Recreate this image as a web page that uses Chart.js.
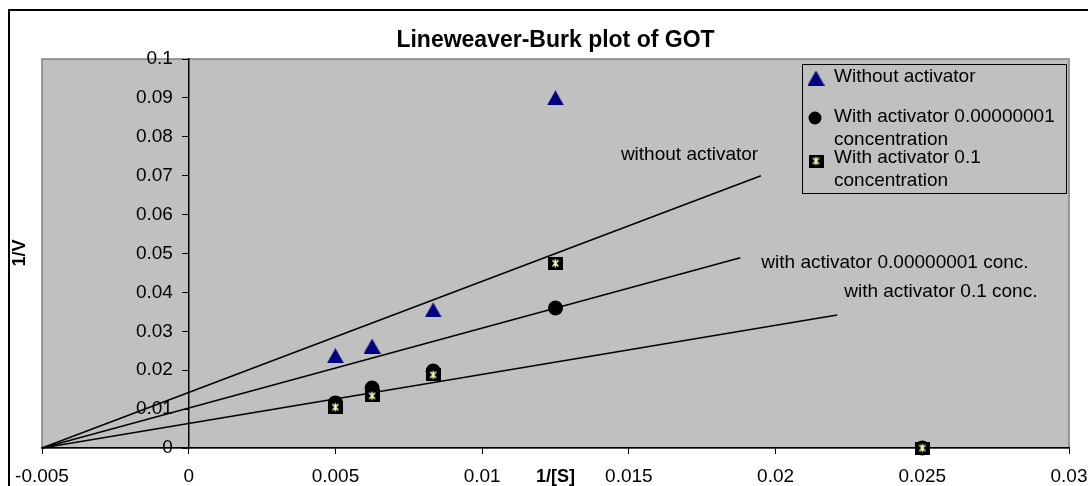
<!DOCTYPE html>
<html>
<head>
<meta charset="utf-8">
<title>Lineweaver-Burk plot of GOT</title>
<script src="https://cdn.jsdelivr.net/npm/chart.js@4.4.1/dist/chart.umd.min.js"></script>
<style>
  body { margin: 0; background: #fff; }
  canvas { display: block; }
</style>
</head>
<body>
<canvas id="lbChart" width="1088" height="486"></canvas>
<script>
const chartTitle = "Lineweaver-Burk plot of GOT";
const xAxisTitle = "1/[S]";
const yAxisTitle = "1/V";

// 1/[S] of the measured points
const substrateInv = [0.005, 0.00625, 0.00833, 0.0125, 0.025];
// 1/V readings
const withoutActivator = [0.0237, 0.0262, 0.0355, 0.09];
const withActivatorLow = [0.0116, 0.0154, 0.0198, 0.036, 0];
const withActivatorHigh = [0.0105, 0.0134, 0.0188, 0.0475, 0];

const legendLines = [
  ["Without activator"],
  ["With activator 0.00000001", "concentration"],
  ["With activator 0.1", "concentration"]
];

// fitted lines, all drawn from the common x-intercept
const lineStart = [-0.005, 0];
const lineEndX = [0.0195, 0.0188, 0.0221];
const lineEndY = [0.070, 0.0489, 0.0342];
const lineLabels = ["without activator", "with activator 0.00000001 conc.", "with activator 0.1 conc."];

const xTickLabels = ["-0.005", "0", "0.005", "0.01", "0.015", "0.02", "0.025", "0.03"];
const yTickLabels = ["0", "0.01", "0.02", "0.03", "0.04", "0.05", "0.06", "0.07", "0.08", "0.09", "0.1"];

const FONT = "'Liberation Sans', Arial, sans-serif";

function toPoints(xs, ys) {
  return ys.map((y, i) => ({ x: xs[i], y: y }));
}

function makeTriangle() {
  const c = document.createElement('canvas');
  c.width = 17; c.height = 15;
  const g = c.getContext('2d');
  g.fillStyle = '#000080';
  g.beginPath();
  g.moveTo(8.5, 0); g.lineTo(17, 15); g.lineTo(0, 15);
  g.closePath(); g.fill();
  return c;
}

function makeStarBox() {
  const c = document.createElement('canvas');
  c.width = 15; c.height = 13;
  const g = c.getContext('2d');
  g.fillStyle = '#000';
  g.fillRect(0, 0, 15, 13);
  g.strokeStyle = '#ffffc0';
  g.lineWidth = 1.5;
  g.beginPath();
  g.moveTo(4.5, 3.5); g.lineTo(10.5, 9.5);
  g.moveTo(10.5, 3.5); g.lineTo(4.5, 9.5);
  g.moveTo(7.5, 2.5); g.lineTo(7.5, 10.5);
  g.stroke();
  return c;
}

const triangleImg = makeTriangle();
const starBoxImg = makeStarBox();

const framePlugin = {
  id: 'frame',
  beforeDraw(chart) {
    const { ctx, chartArea: a } = chart;
    ctx.save();
    ctx.fillStyle = '#fff';
    ctx.fillRect(0, 0, chart.width, chart.height);
    ctx.strokeStyle = '#000';
    ctx.lineWidth = 2;
    ctx.strokeRect(9, 10, chart.width + 20, chart.height + 20);
    ctx.fillStyle = '#c0c0c0';
    ctx.fillRect(a.left, a.top, a.right - a.left, a.bottom - a.top);
    ctx.strokeStyle = '#808080';
    ctx.lineWidth = 1.5;
    ctx.strokeRect(a.left, a.top, a.right - a.left, a.bottom - a.top);
    ctx.restore();
  },
  afterDraw(chart) {
    const { ctx, chartArea: a, scales } = chart;
    ctx.save();
    ctx.fillStyle = '#000';

    // title
    ctx.font = "bold 23px " + FONT;
    ctx.textAlign = 'center';
    ctx.textBaseline = 'middle';
    ctx.fillText(chartTitle, (a.left + a.right) / 2, 41);

    // axis titles
    ctx.font = "bold 18px " + FONT;
    ctx.fillText(xAxisTitle, (a.left + a.right) / 2, 477);
    ctx.save();
    ctx.translate(20, 253);
    ctx.rotate(-Math.PI / 2);
    ctx.fillText(yAxisTitle, 0, 0);
    ctx.restore();

    // labels next to the fitted lines
    const offsets = [[-140, -21], [21, 5], [7, -23]];
    ctx.font = "19px " + FONT;
    ctx.textAlign = 'left';
    lineLabels.forEach((txt, i) => {
      const px = scales.x.getPixelForValue(lineEndX[i]);
      const py = scales.y.getPixelForValue(lineEndY[i]);
      ctx.fillText(txt, px + offsets[i][0], py + offsets[i][1]);
    });

    // legend box
    const lx = 802, ly = 64, lw = 264, lh = 129;
    ctx.fillStyle = '#c0c0c0';
    ctx.fillRect(lx, ly, lw, lh);
    ctx.strokeStyle = '#000';
    ctx.lineWidth = 1;
    ctx.strokeRect(lx + 0.5, ly + 0.5, lw, lh);

    const rowY = [77, 117, 158];
    const markerY = [78, 118, 161];
    ctx.drawImage(triangleImg, 816 - 8.5, markerY[0] - 7.5);
    ctx.fillStyle = '#000';
    ctx.beginPath();
    ctx.arc(815, markerY[1], 6.5, 0, Math.PI * 2);
    ctx.fill();
    ctx.drawImage(starBoxImg, 816 - 7.5, markerY[2] - 6.5);

    ctx.font = "19px " + FONT;
    ctx.fillStyle = '#000';
    legendLines.forEach((lines, i) => {
      lines.forEach((t, j) => ctx.fillText(t, 834, rowY[i] + j * 23));
    });
    ctx.restore();
  }
};

const lineDatasets = lineEndX.map((ex, i) => ({
  label: lineLabels[i],
  data: [{ x: lineStart[0], y: lineStart[1] }, { x: ex, y: lineEndY[i] }],
  showLine: true,
  borderColor: '#000',
  borderWidth: 1.5,
  pointRadius: 0,
  clip: false
}));

const ctx = document.getElementById('lbChart').getContext('2d');
new Chart(ctx, {
  type: 'scatter',
  data: {
    datasets: [
      {
        label: legendLines[0].join(' '),
        data: toPoints(substrateInv, withoutActivator),
        pointStyle: triangleImg,
        clip: false
      },
      {
        label: legendLines[2].join(' '),
        data: toPoints(substrateInv, withActivatorHigh),
        pointStyle: starBoxImg,
        clip: false
      },
      {
        label: legendLines[1].join(' '),
        data: toPoints(substrateInv, withActivatorLow),
        pointStyle: 'circle',
        pointRadius: 7.5,
        backgroundColor: '#000',
        borderWidth: 0,
        clip: false
      },
      ...lineDatasets
    ]
  },
  options: {
    responsive: false,
    animation: false,
    events: [],
    layout: { padding: { left: 42, right: 19, top: 59, bottom: 0 } },
    plugins: {
      legend: { display: false },
      title: { display: false },
      tooltip: { enabled: false }
    },
    scales: {
      x: {
        type: 'linear',
        position: 'bottom',
        min: -0.005,
        max: 0.03,
        afterFit: (scale) => { scale.height = 38; },
        grid: { drawOnChartArea: false, drawTicks: true, tickLength: 6, tickColor: '#000', lineWidth: 1 },
        border: { display: true, color: '#000', width: 1.5 },
        ticks: {
          stepSize: 0.005,
          padding: 0,
          color: '#000',
          // tall line height pushes the labels down without widening the side padding
          font: { family: FONT, size: 19, lineHeight: 2.4 },
          maxRotation: 0,
          autoSkip: false,
          callback: (v, i) => xTickLabels[i]
        }
      },
      y: {
        type: 'linear',
        position: { x: 0 },
        min: 0,
        max: 0.1,
        grid: { drawOnChartArea: false, drawTicks: true, tickLength: 6, tickColor: '#000', lineWidth: 1 },
        border: { display: true, color: '#000', width: 1.5 },
        ticks: {
          stepSize: 0.01,
          color: '#000',
          font: { family: FONT, size: 19 },
          autoSkip: false,
          // labels sit right on the axis here, so pad them away from it
          callback: (v, i) => yTickLabels[i] + '   '
        }
      }
    }
  },
  plugins: [framePlugin]
});
</script>
</body>
</html>
